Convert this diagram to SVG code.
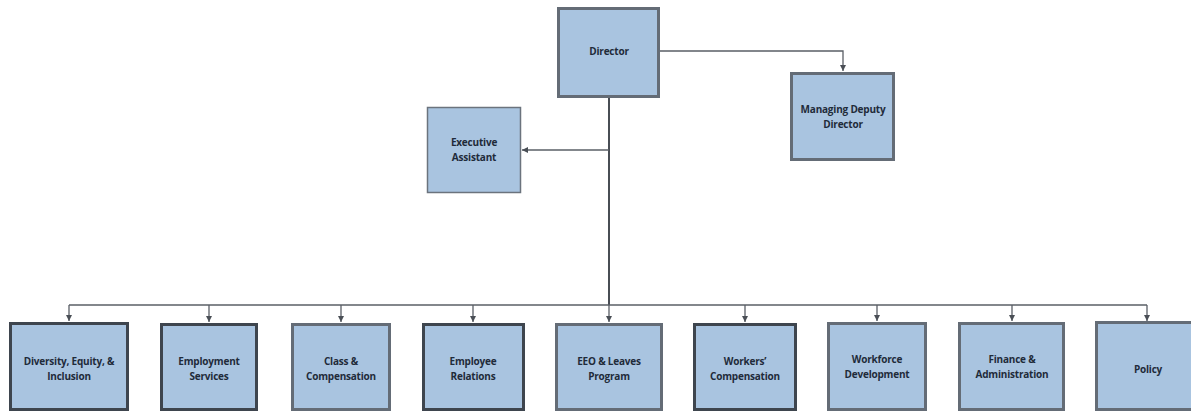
<svg xmlns="http://www.w3.org/2000/svg" width="1191" height="412" viewBox="0 0 1191 412">
<defs>
<style>
.box{fill:#a9c4e0;stroke:#646c76;stroke-width:3}
.dark{stroke:#3e454e}
.thin{stroke:#6b737d;stroke-width:1.5}
.lbl{font-family:"Open Sans","Liberation Sans",sans-serif;font-weight:bold;font-size:10px;fill:#1f2b3a;text-anchor:middle;letter-spacing:-0.2px}
.con{fill:none;stroke:#5a5f66;stroke-width:1.3}
.main{fill:none;stroke:#484d54;stroke-width:2}
</style>
<marker id="arr" viewBox="0 0 10 10" refX="10" refY="5" markerWidth="6" markerHeight="6" markerUnits="userSpaceOnUse" orient="auto">
<path d="M0,0 L10,5 L0,10 Z" fill="#4a4f56"/>
</marker>
</defs>
<rect width="1191" height="412" fill="#ffffff"/>
<g id="connectors">
<path class="main" d="M609,97 V305"/>
<path class="con" d="M660,51 H843 V71" marker-end="url(#arr)"/>
<path class="con" d="M609,150 H522" marker-end="url(#arr)"/>
<path class="con" d="M69,305 H1147"/>
<path class="con" d="M69,305 V321" marker-end="url(#arr)"/>
<path class="con" d="M209,305 V322" marker-end="url(#arr)"/>
<path class="con" d="M341,305 V322" marker-end="url(#arr)"/>
<path class="con" d="M473,305 V322" marker-end="url(#arr)"/>
<path class="con" d="M609,305 V322" marker-end="url(#arr)"/>
<path class="con" d="M745,305 V322" marker-end="url(#arr)"/>
<path class="con" d="M877,305 V321" marker-end="url(#arr)"/>
<path class="con" d="M1012,305 V321" marker-end="url(#arr)"/>
<path class="con" d="M1147,305 V321" marker-end="url(#arr)"/>
</g>
<g id="director"><rect class="box" x="558.5" y="8.5" width="100" height="88"/><text class="lbl" x="609" y="55">Director</text></g>
<g id="managing-deputy-director"><rect class="box" x="791.5" y="73.5" width="102" height="86"/><text class="lbl" x="843" y="113">Managing Deputy</text><text class="lbl" x="843" y="128">Director</text></g>
<g id="executive-assistant"><rect class="box thin" x="427.5" y="107.5" width="93" height="85"/><text class="lbl" x="474" y="146">Executive</text><text class="lbl" x="474" y="161">Assistant</text></g>
<g id="diversity"><rect class="box dark" x="10.5" y="323.5" width="117" height="86"/><text class="lbl" x="69" y="365">Diversity, Equity, &amp;</text><text class="lbl" x="69" y="380">Inclusion</text></g>
<g id="employment-services"><rect class="box dark" x="161.5" y="324.5" width="95" height="85"/><text class="lbl" x="209" y="365">Employment</text><text class="lbl" x="209" y="380">Services</text></g>
<g id="class-compensation"><rect class="box" x="292.5" y="324.5" width="97" height="85"/><text class="lbl" x="341" y="365">Class &amp;</text><text class="lbl" x="341" y="380">Compensation</text></g>
<g id="employee-relations"><rect class="box dark" x="423.5" y="324.5" width="100" height="85"/><text class="lbl" x="473" y="365">Employee</text><text class="lbl" x="473" y="380">Relations</text></g>
<g id="eeo-leaves"><rect class="box" x="556.5" y="324.5" width="105" height="85"/><text class="lbl" x="609" y="365">EEO &amp; Leaves</text><text class="lbl" x="609" y="380">Program</text></g>
<g id="workers-compensation"><rect class="box dark" x="694.5" y="324.5" width="101" height="85"/><text class="lbl" x="745" y="365">Workers’</text><text class="lbl" x="745" y="380">Compensation</text></g>
<g id="workforce-development"><rect class="box" x="828.5" y="323.5" width="97" height="86"/><text class="lbl" x="877" y="363">Workforce</text><text class="lbl" x="877" y="378">Development</text></g>
<g id="finance-administration"><rect class="box" x="959.5" y="323.5" width="104" height="86"/><text class="lbl" x="1012" y="363">Finance &amp;</text><text class="lbl" x="1012" y="378">Administration</text></g>
<g id="policy"><rect class="box" x="1096.5" y="322.5" width="96" height="87"/><text class="lbl" x="1148" y="373">Policy</text></g>
</svg>
